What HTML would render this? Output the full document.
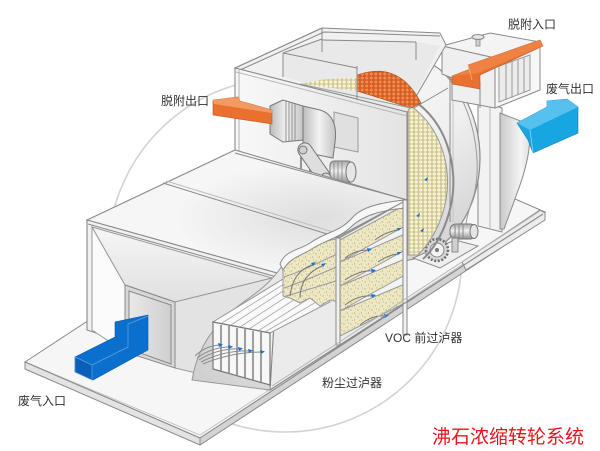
<!DOCTYPE html>
<html><head><meta charset="utf-8">
<style>
html,body{margin:0;padding:0;background:#fff;}
svg{display:block;}
text{font-family:"Liberation Sans","Noto Sans CJK SC",sans-serif;}
</style></head><body>
<svg width="600" height="451" viewBox="0 0 600 451" xmlns="http://www.w3.org/2000/svg">
<defs>
 <pattern id="cream" width="4.5" height="4" patternUnits="userSpaceOnUse">
  <rect width="4.5" height="4" fill="#cfc795"/>
  <circle cx="2.25" cy="2" r="1.65" fill="#f8f4d2"/>
 </pattern>
 <pattern id="orng" width="4.5" height="4" patternUnits="userSpaceOnUse">
  <rect width="4.5" height="4" fill="#d45e22"/>
  <circle cx="2.25" cy="2" r="1.5" fill="#f08c52"/>
 </pattern>
 <pattern id="sand" width="7" height="7" patternUnits="userSpaceOnUse">
  <rect width="7" height="7" fill="#ede7c2"/>
  <circle cx="1" cy="2" r="0.55" fill="#8f8960"/>
  <circle cx="4.5" cy="5" r="0.5" fill="#8f8960"/>
  <circle cx="5.5" cy="1" r="0.45" fill="#a9a37a"/>
  <circle cx="2.5" cy="5.8" r="0.4" fill="#a9a37a"/>
 </pattern>
 <linearGradient id="hous" x1="0" y1="0" x2="0.6" y2="1">
  <stop offset="0" stop-color="#fbfbfb"/><stop offset="0.6" stop-color="#f0f0f0"/><stop offset="1" stop-color="#d6d6d6"/>
 </linearGradient>
 <linearGradient id="face" x1="0" y1="0" x2="1" y2="0">
  <stop offset="0" stop-color="#f8f8f8"/><stop offset="1" stop-color="#e4e4e4"/>
 </linearGradient>
 <linearGradient id="metal" x1="0" y1="0" x2="1" y2="0">
  <stop offset="0" stop-color="#bcbcbc"/><stop offset="0.5" stop-color="#f3f3f3"/><stop offset="1" stop-color="#c4c4c4"/>
 </linearGradient>
 <linearGradient id="cyl" x1="0" y1="0" x2="0" y2="1">
  <stop offset="0" stop-color="#a8a8a8"/><stop offset="0.45" stop-color="#efefef"/><stop offset="1" stop-color="#909090"/>
 </linearGradient>
 <linearGradient id="cone" x1="0" y1="0" x2="1" y2="0">
  <stop offset="0" stop-color="#c9c9c9"/><stop offset="0.7" stop-color="#f5f5f5"/><stop offset="1" stop-color="#e0e0e0"/>
 </linearGradient>
 <linearGradient id="hop" x1="0" y1="0" x2="0" y2="1">
  <stop offset="0" stop-color="#f6f6f6"/><stop offset="1" stop-color="#e0e0e0"/>
 </linearGradient>
 <linearGradient id="openg" x1="0" y1="0" x2="1" y2="0">
  <stop offset="0" stop-color="#e9e9e9"/><stop offset="1" stop-color="#cfcfcf"/>
 </linearGradient>
 <linearGradient id="cutg" x1="0" y1="1" x2="1" y2="0">
  <stop offset="0" stop-color="#cdcdcd"/><stop offset="1" stop-color="#eeeeee"/>
 </linearGradient>
 <radialGradient id="roofg" cx="0.72" cy="0.55" r="0.45">
  <stop offset="0" stop-color="#dedede"/><stop offset="1" stop-color="#f6f6f6"/>
 </radialGradient>
</defs>

<!-- big background circle -->
<circle cx="285" cy="255" r="177" fill="none" stroke="#d3d3d3" stroke-width="1.6"/>

<!-- base plate -->
<polygon points="25,362 200,438 545,212 370,136" fill="#f6f6f6" stroke="#8a8a8a"/>
<polyline points="30,364 200,435 540,214" fill="none" stroke="#bcbcbc" stroke-width="0.8"/>
<polygon points="25,362 200,438 200,445 25,369" fill="#e3e3e3" stroke="#8a8a8a"/>
<polygon points="200,438 545,212 545,219 200,445" fill="#d3d3d3" stroke="#8a8a8a"/>

<!-- right end plate/posts -->
<polygon points="462,262 540,210 545,213 545,220 466,270" fill="#ececec" stroke="#8a8a8a"/>
<polygon points="478,100 502,108 502,232 478,226" fill="#f2f2f2" stroke="#8a8a8a"/>
<line x1="490" y1="104" x2="490" y2="229" stroke="#b5b5b5"/>

<!-- outlet cone -->
<path d="M500,113 L528,124 C533,142 526,170 516,196 L504,229 L500,229 Z" fill="url(#cone)" stroke="#8a8a8a"/>

<!-- wheel housing -->
<ellipse cx="398" cy="158" rx="82" ry="103" fill="url(#hous)" stroke="#8a8a8a" stroke-width="1.2"/>
<path d="M440,70 C470,95 484,155 474,195 C468,212 466,220 466,226" fill="none" stroke="#9a9a9a"/>
<line x1="450" y1="75" x2="450" y2="222" stroke="#8a8a8a"/>
<line x1="453" y1="76" x2="453" y2="222" stroke="#c4c4c4"/>
<line x1="407" y1="112" x2="448" y2="88" stroke="#8a8a8a"/>

<!-- gears / motor under wheel -->
<polygon points="413,258 455,240 478,246 440,268" fill="#eeeeee" stroke="#8a8a8a"/>
<rect x="450" y="224" width="26" height="15" rx="6" fill="url(#cyl)" stroke="#777"/>
<ellipse cx="474" cy="231.5" rx="4" ry="7" fill="#e6e6e6" stroke="#777"/>
<line x1="455" y1="225" x2="455" y2="238" stroke="#888"/><line x1="459" y1="225" x2="459" y2="238" stroke="#888"/><line x1="463" y1="225" x2="463" y2="238" stroke="#888"/>
<rect x="452" y="238" width="6" height="14" fill="#cfcfcf" stroke="#777" stroke-width="0.8"/>
<circle cx="437" cy="250" r="11" fill="#d8d8d8" stroke="#6f6f6f" stroke-width="2.6" stroke-dasharray="2,1.6"/>
<circle cx="437" cy="250" r="7" fill="#f2f2f2" stroke="#888"/>
<circle cx="437" cy="250" r="2" fill="#777"/>

<!-- wheel cream face -->
<path d="M408,104 C440,125 452,165 446,200 C441,225 430,243 418,255 L408,255 Z" fill="url(#cream)" stroke="#999"/>
<path d="M411,99 C447,120 459,168 451,205 C446,228 436,247 423,259" fill="none" stroke="#8a8a8a" stroke-width="2"/>
<path d="M416,216 l4,-3 l-1,4 z M420,231 l4,-3 l-1,4 z M424,180 l4,-3 l-1,4 z" fill="#1a6fd0"/>

<!-- desorption inlet box (top right) -->
<polygon points="442,46 490,33 540,42 495,58" fill="#f4f4f4" stroke="#8a8a8a"/>
<polygon points="442,46 495,58 495,108 452,100 452,78 442,74" fill="#efefef" stroke="#8a8a8a"/>
<polygon points="495,58 540,42 540,90 495,108" fill="#f7f7f7" stroke="#8a8a8a"/>
<polygon points="499,66 530,55 530,90 499,102" fill="#ececec" stroke="#9a9a9a"/>
<line x1="506" y1="64" x2="506" y2="100" stroke="#999"/><line x1="512" y1="62" x2="512" y2="98" stroke="#999"/><line x1="518" y1="60" x2="518" y2="95" stroke="#999"/><line x1="524" y1="58" x2="524" y2="93" stroke="#999"/>
<line x1="480" y1="82" x2="480" y2="108" stroke="#8a8a8a"/>
<rect x="476" y="37" width="4" height="9" fill="#d0d0d0" stroke="#888" stroke-width="0.8"/>
<ellipse cx="478" cy="37" rx="6" ry="2.5" fill="#e4e4e4" stroke="#888"/>

<!-- top frame of upper cabinet -->
<polygon points="235,68 322,28 440,33 446,45 407,112" fill="#f1f1f1" stroke="#8a8a8a"/>
<polygon points="283,53 322,39 415,42 440,46 407,112 357,99 283,76" fill="#e9e9e9" stroke="none"/>
<!-- visible wheel through top -->
<path d="M300,84 Q328,77 357,78 L357,91 Z" fill="url(#cream)"/>
<path d="M357,75 Q399,60 421,103 L411,108 L357,91 Z" fill="url(#orng)" stroke="#a85020" stroke-width="0.6"/>
<line x1="300" y1="84" x2="411" y2="108" stroke="#9a9a9a" stroke-width="0.9"/>
<g stroke="#8a8a8a" fill="none">
 <path d="M235,68 L322,28"/>
 <path d="M240,70 L324,32 L440,36"/>
 <path d="M283,53 L283,77"/>
 <path d="M283,53 L357,68"/>
 <path d="M357,66 L357,100"/>
 <path d="M322,28 L322,52"/>
 <path d="M322,40 L416,42"/>
 <path d="M283,53 L322,39"/>
 <path d="M416,42 L416,60"/>
</g>

<!-- upper box front face -->
<polygon points="235,68 407,112 407,200 235,153" fill="url(#face)" stroke="#8a8a8a" stroke-width="1.1"/>
<line x1="239" y1="70" x2="239" y2="154" stroke="#b0b0b0"/>
<line x1="236" y1="72" x2="407" y2="116" stroke="#b8b8b8"/>

<!-- fan assembly -->
<polygon points="334,112 358,118 358,152 334,147" fill="#e0e0e0" stroke="#999"/>
<polygon points="270,106 283,100 303,106 303,140 283,142 270,134" fill="url(#metal)" stroke="#777"/>
<g stroke="#888" stroke-width="0.9"><line x1="286" y1="101" x2="286" y2="141"/><line x1="289" y1="102" x2="289" y2="141"/><line x1="292" y1="103" x2="292" y2="141"/><line x1="295" y1="104" x2="295" y2="141"/></g>
<path d="M303,106 L320,110 C334,114 337,128 335,142 L333,158 L303,152 Z" fill="url(#metal)" stroke="#777"/>
<polygon points="293,177 356,192 364,188 301,172" fill="#d4d4d4" stroke="#777"/>
<line x1="301" y1="150" x2="301" y2="176" stroke="#777" stroke-width="1.5"/>
<line x1="310" y1="152" x2="310" y2="178" stroke="#777" stroke-width="1.5"/>
<rect x="-7" y="-23" width="14" height="46" rx="7" transform="translate(314,163) rotate(-35)" fill="#dedede" stroke="#777"/>
<circle cx="303" cy="150" r="4" fill="#cfcfcf" stroke="#777"/>
<rect x="330" y="161" width="22" height="22" rx="4" fill="url(#cyl)" stroke="#777"/>
<g stroke="#888" stroke-width="0.8"><line x1="334" y1="162" x2="334" y2="182"/><line x1="338" y1="162" x2="338" y2="182"/><line x1="342" y1="162" x2="342" y2="182"/></g>
<ellipse cx="351" cy="172" rx="5" ry="10" fill="#e6e6e6" stroke="#777"/>
<circle cx="326" cy="178" r="5" fill="#d8d8d8" stroke="#777"/>

<!-- roof of lower section -->
<polygon points="87,220 235,150 407,200 277,273" fill="url(#roofg)" stroke="#8a8a8a" stroke-width="1.1"/>
<line x1="163" y1="183" x2="340" y2="238" stroke="#8a8a8a"/>
<line x1="166" y1="181" x2="343" y2="235" stroke="#bdbdbd"/>
<line x1="235" y1="153" x2="407" y2="200" stroke="#8a8a8a"/>

<!-- right side face -->
<polygon points="277,273 407,200 407,302 270,390" fill="#ebebeb" stroke="#8a8a8a"/>

<!-- inlet face & hopper -->
<polygon points="87,220 277,273 270,390 87,330" fill="#f1f1f1" stroke="#8a8a8a" stroke-width="1.1"/>
<line x1="88" y1="224" x2="277" y2="277" stroke="#8a8a8a"/>
<polygon points="92,227 125,285 125,352 92,330" fill="#fbfbfb" stroke="#999"/>
<polygon points="92,227 272,278 175,302 125,285" fill="url(#hop)" stroke="#999"/>
<polygon points="272,278 175,302 175,368 268,390" fill="#e3e3e3" stroke="#999"/>
<polygon points="125,285 175,302 175,368 125,352" fill="#d7d7d7" stroke="#888"/>
<polygon points="129,291 171,305 171,364 129,349" fill="url(#openg)" stroke="#8a8a8a"/>

<!-- cutaway on hopper right face -->
<path d="M192,380 C196,356 206,336 226,316 C246,298 266,290 282,266 L292,256 L305,290 L270,333 L270,390 Z" fill="url(#cutg)" stroke="#999"/>

<!-- dust filter bundle -->
<polygon points="213,322 270,333 330,302 288,276" fill="#fafafa" stroke="#999"/>
<g stroke="#aaa" stroke-width="0.9">
 <line x1="222" y1="323" x2="292" y2="279"/><line x1="231" y1="325" x2="297" y2="282"/>
 <line x1="240" y1="327" x2="303" y2="286"/><line x1="249" y1="329" x2="309" y2="290"/>
 <line x1="258" y1="331" x2="316" y2="294"/><line x1="265" y1="332" x2="323" y2="298"/>
</g>
<!-- grille -->
<polygon points="213,322 270,333 270,385 213,369" fill="#f7f7f7" stroke="#777" stroke-width="1.2"/>
<g stroke="#888" stroke-width="1.6">
 <line x1="221" y1="325" x2="221" y2="371"/><line x1="229" y1="326" x2="229" y2="374"/>
 <line x1="237" y1="328" x2="237" y2="376"/><line x1="245" y1="329" x2="245" y2="378"/>
 <line x1="253" y1="331" x2="253" y2="380"/><line x1="261" y1="332" x2="261" y2="382"/>
</g>
<g fill="none" stroke="#8a8a8a" stroke-width="1">
 <path d="M195,356 Q205,346 220,345"/><path d="M197,358 Q212,347 230,347"/>
 <path d="M199,360 Q218,348 240,349"/><path d="M201,362 Q225,350 250,351"/>
 <path d="M203,364 Q232,352 262,352"/>
</g>
<g fill="#1a6fd0">
 <path d="M218,343 l5,1.5 l-4,2.5 z"/><path d="M228,345 l5,1.5 l-4,2.5 z"/>
 <path d="M238,347 l5,1.5 l-4,2.5 z"/><path d="M248,349 l5,1.5 l-4,2.5 z"/>
 <path d="M260,350 l5,1.5 l-4,2.5 z"/>
</g>

<!-- VOC prefilter cutaway -->
<path d="M283,268 C290,256 305,255 312,248 C325,240 333,240 340,238 L340,302 L330,300 L320,306 L310,298 L300,303 L290,298 L283,296 Z" fill="url(#sand)" stroke="#999"/>
<polygon points="340,240 405,205 405,303 340,336" fill="url(#sand)" stroke="#999"/>
<g fill="none" stroke="#9a9a9a" stroke-width="1">
 <path d="M284,277 C300,272 320,262 339,253"/><path d="M284,288 C300,283 320,274 339,266"/>
 <path d="M286,296 C300,292 320,286 339,280"/>
</g>
<g fill="#f3f3f3" stroke="#999">
 <path d="M340,262 L405,226 L405,234 Z"/><path d="M340,286 L405,250 L405,259 Z"/>
 <path d="M340,311 L405,275 L405,284 Z"/>
</g>
<g fill="none" stroke="#777" stroke-width="1">
 <path d="M290,296 C292,280 298,270 312,265"/><path d="M300,298 C300,282 308,272 322,266"/>
 <path d="M345,258 Q355,250 368,250"/><path d="M345,280 Q360,270 372,271"/>
 <path d="M345,305 Q358,295 372,296"/><path d="M360,325 Q372,315 385,316"/>
 <path d="M375,240 Q385,232 398,230"/><path d="M378,262 Q388,255 398,254"/>
</g>
<g fill="#1a6fd0">
 <path d="M311,263 l5,-1 l-3,4 z"/><path d="M321,264 l5,-1 l-3,4 z"/>
 <path d="M367,248 l5,1 l-4,3 z"/><path d="M371,269 l5,1 l-4,3 z"/>
 <path d="M371,294 l5,1 l-4,3 z"/><path d="M384,314 l5,1 l-4,3 z"/>
 <path d="M397,228 l5,0 l-4,3 z"/><path d="M397,252 l5,0 l-4,3 z"/>
</g>
<!-- top cover cloth -->
<path d="M280,264 C285,250 300,250 310,243 C325,232 340,232 352,218 C362,206 385,202 405,200 L405,208 C385,210 365,214 352,226 C340,238 325,240 310,250 C300,256 290,258 283,270 Z" fill="#f7f7f7" stroke="#8a8a8a"/>
<!-- frame -->
<line x1="336" y1="238" x2="405" y2="201" stroke="#8a8a8a" stroke-width="1.2"/>
<rect x="336" y="238" width="4" height="107" fill="#f2f2f2" stroke="#888"/>
<rect x="403" y="200" width="4" height="135" fill="#f2f2f2" stroke="#888"/>

<!-- side bottom rail -->
<line x1="270" y1="390" x2="543" y2="214" stroke="#8a8a8a" stroke-width="1.1"/>
<line x1="272" y1="386" x2="540" y2="211" stroke="#b5b5b5"/>

<!-- arrows -->
<polygon points="213,100 238,97 240,101 272,110 272,124 213,115" fill="#e9702f" stroke="#b85a2a" stroke-width="0.6"/>
<polygon points="213,100 238,97 240,101 272,110 272,113 214,104" fill="#f39a63"/>

<polygon points="452,76 470,69 468,65 540,40 543,46 480,75 480,89 452,84" fill="#e9702f" stroke="#b85a2a" stroke-width="0.6"/>
<polygon points="452,76 470,69 468,65 540,40 543,46 478,73" fill="#ef8142"/>
<line x1="468" y1="65" x2="472" y2="80" stroke="#f6b08a" stroke-width="0.8"/>

<polygon points="517,123 547,107 547,101 567,99 578,107 578,133 533,153 528,140" fill="#18a6e3" stroke="#1180b0" stroke-width="0.6"/>
<polygon points="517,123 547,107 547,101 567,99 578,107 530,130" fill="#56c1ee"/>
<line x1="530" y1="130" x2="533" y2="153" stroke="#8fd6f4" stroke-width="0.8"/>

<polygon points="75,357 115,337 115,322 148,315 148,350 93,380 75,372" fill="#0b6fcd" stroke="#0a5aa8" stroke-width="0.6"/>
<polygon points="75,357 92,365 92,380 75,372" fill="#0a60b6" stroke="#5d9fe0" stroke-width="0.7"/>
<polyline points="92,365 128,347 128,324 148,316" fill="none" stroke="#5d9fe0" stroke-width="0.8"/>

<!-- labels -->
<text x="161" y="105" font-size="12" fill="#333">脱附出口</text>
<text x="508" y="28.5" font-size="12" fill="#333">脱附入口</text>
<text x="546" y="93" font-size="12" fill="#333">废气出口</text>
<text x="18" y="405" font-size="12" fill="#333">废气入口</text>
<text x="385" y="342" font-size="12" fill="#333">VOC 前过泸器</text>
<text x="322" y="387" font-size="12" fill="#333">粉尘过泸器</text>
<text x="432" y="443" font-size="19" fill="#e8141c">沸石浓缩转轮系统</text>
</svg>
</body></html>
